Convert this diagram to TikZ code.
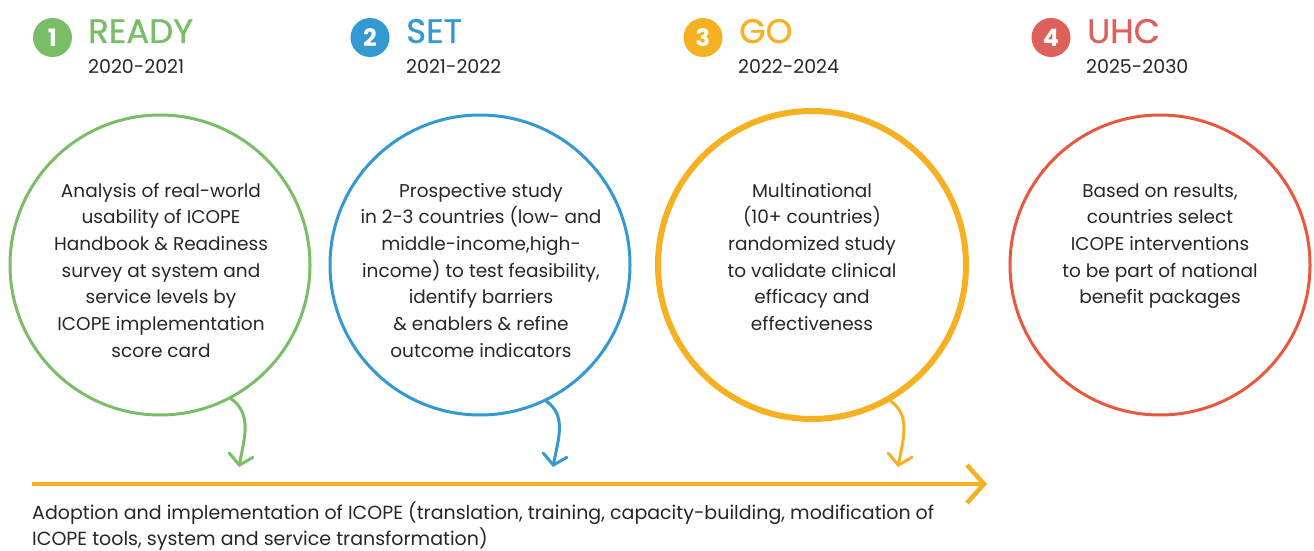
\documentclass[tikz,border=0pt]{standalone}
\usepackage{fontspec}
\setmainfont{Poppins}
\newfontfamily\headfont{Poppins}[FakeBold=0.8]
\usetikzlibrary{arrows.meta}

\definecolor{readygreen}{HTML}{7ABD67}
\definecolor{setblue}{HTML}{3498D2}
\definecolor{goorange}{HTML}{F5B121}
\definecolor{uhcred}{HTML}{DF605A}
\definecolor{uhcring}{HTML}{E9573F}
\definecolor{inktext}{HTML}{262626}

\tikzset{
  badge/.style={circle,fill=#1,text=white,minimum size=39pt,inner sep=0pt,
    font=\fontsize{24}{24}\selectfont\bfseries},
  phase/.style={anchor=base west,inner sep=0pt,text=#1,
    font=\headfont\fontsize{34}{34}\selectfont},
  years/.style={anchor=base west,inner sep=0pt,text=inktext,
    font=\fontsize{19}{19}\selectfont},
  stage/.style={circle,draw=#1,line width=3pt,minimum size=300pt,inner sep=0pt},
  stagetext/.style={anchor=base,inner sep=0pt,align=center,text=inktext,
    font=\fontsize{18.5}{26.7}\selectfont},
  drop/.style={draw=#1,line width=3pt,line cap=round,
    -{Straight Barb[length=10pt,width=24pt,line cap=round]}},
}

\begin{document}
\begin{tikzpicture}[x=1pt,y=1pt]
\useasboundingbox (0,0) rectangle (1314,-551);

% headings
\node[badge=readygreen] (b1) at (52.5,-37.5) {1};
\node[phase=readygreen] (h1) at (88,-43) {READY};
\node[years] (y1) at (88,-74) {2020-2021};
\node[badge=setblue] (b2) at (370,-37.5) {2};
\node[phase=setblue] (h2) at (406,-43) {SET};
\node[years] (y2) at (406,-74) {2021-2022};
\node[badge=goorange] (b3) at (703,-37.5) {3};
\node[phase=goorange] (h3) at (739,-43) {GO};
\node[years] (y3) at (738,-74) {2022-2024};
\node[badge=uhcred] (b4) at (1051,-37.5) {4};
\node[phase=uhcred] (h4) at (1087,-43) {UHC};
\node[years] (y4) at (1086,-74) {2025-2030};

% circles
\node[stage=readygreen] (ready) at (160,-265) {};
\node[stage=setblue] (set) at (480,-265) {};
\node[stage=goorange,line width=6pt,minimum size=308pt] (go) at (812,-265) {};
\node[stage=uhcring] (uhc) at (1160,-265) {};

% texts sit on the baseline of their last line
\node[stagetext] (t1) at (161,-357.2) {Analysis of real-world\\usability of ICOPE\\Handbook \& Readiness\\survey at system and\\service levels by\\ICOPE implementation\\score card};
\node[stagetext] (t2) at (481,-357.2) {Prospective study\\in 2-3 countries (low- and\\middle-income,high-\\income) to test feasibility,\\identify barriers\\\& enablers \& refine\\outcome indicators};
\node[stagetext] (t3) at (812,-330.5) {Multinational\\(10+ countries)\\randomized study\\to validate clinical\\efficacy and\\effectiveness};
\node[stagetext] (t4) at (1160,-303.8) {Based on results,\\countries select\\ICOPE interventions\\to be part of national\\benefit packages};

% timeline
\coordinate (railstart) at (32,-484);
\coordinate (railend) at (987,-484);
\draw[goorange,line width=4.5pt,-{Straight Barb[length=17pt,width=38pt]}] (railstart) -- (railend);

\coordinate (d1) at (239,-467);
\coordinate (d2) at (553,-467);
\coordinate (d3) at (898,-467);
\draw[drop=readygreen] (ready.-62) to[out=-35,in=80] (d1);
\draw[drop=setblue] (set.-64) to[out=-35,in=80] (d2);
\draw[drop=goorange] (go.-60) to[out=-35,in=80] (d3);

\node[anchor=base west,inner sep=0pt,align=left,text=inktext,
  font=\fontsize{19}{26}\selectfont] (note) at (32,-545)
  {Adoption and implementation of ICOPE (translation, training, capacity-building, modification of\\ICOPE tools, system and service transformation)};
\end{tikzpicture}
\end{document}
